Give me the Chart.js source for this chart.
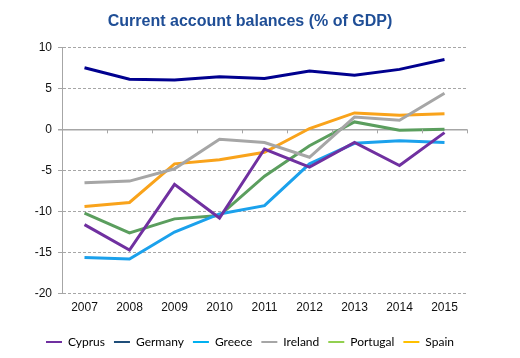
<!DOCTYPE html>
<html>
<head>
<meta charset="utf-8">
<script src="https://cdn.jsdelivr.net/npm/chart.js@4.4.1/dist/chart.umd.min.js"></script>
<style>
  html, body { margin: 0; padding: 0; background: #fff; }
  #wrap { width: 520px; height: 358px; }
</style>
</head>
<body>
<div id="wrap"><canvas id="chart" width="520" height="358"></canvas></div>
<script>
  // Current account balances, % of GDP
  const years    = ['2007', '2008', '2009', '2010', '2011', '2012', '2013', '2014', '2015'];
  const cyprus   = [-11.6, -14.7, -6.7, -10.8, -2.4, -4.6, -1.6, -4.4, -0.4];
  const germany  = [7.5, 6.1, 6.0, 6.4, 6.2, 7.1, 6.6, 7.3, 8.5];
  const greece   = [-15.6, -15.8, -12.5, -10.3, -9.3, -4.2, -1.7, -1.4, -1.6];
  const ireland  = [-6.5, -6.3, -4.8, -1.2, -1.6, -3.4, 1.5, 1.1, 4.4];
  const portugal = [-10.2, -12.6, -10.9, -10.5, -5.7, -2.0, 0.9, -0.1, 0.0];
  const spain    = [-9.4, -8.9, -4.2, -3.7, -2.8, 0.1, 2.0, 1.7, 1.9];
  const yTicks   = { min: -20, max: 10, step: 5 };

  const GRID = '#a6a6a6';

  // line colours vs. the (slightly different) legend swatch colours of the original
  const series = [
    { label: 'Cyprus',   data: cyprus,   color: '#7030a0', legend: '#7030a0' },
    { label: 'Germany',  data: germany,  color: '#00008f', legend: '#1f4e79' },
    { label: 'Greece',   data: greece,   color: '#1ba1ec', legend: '#00b0f0' },
    { label: 'Ireland',  data: ireland,  color: '#a6a6a6', legend: '#a6a6a6' },
    { label: 'Portugal', data: portugal, color: '#5b9e5e', legend: '#92d050' },
    { label: 'Spain',    data: spain,    color: '#f9a31b', legend: '#ffc000' },
  ];

  // small tick marks hanging off the zero line at the category boundaries
  const zeroTicks = {
    id: 'zeroTicks',
    afterDatasetsDraw(chart) {
      const x = chart.scales.x, y = chart.scales.y;
      const y0 = y.getPixelForValue(0);
      const half = (x.getPixelForTick(1) - x.getPixelForTick(0)) / 2;
      const ctx = chart.ctx;
      ctx.save();
      ctx.strokeStyle = GRID;
      ctx.lineWidth = 1;
      ctx.beginPath();
      for (let i = 0; i < years.length; i++) {
        const px = Math.round(x.getPixelForTick(i) + half) + 0.5;
        ctx.moveTo(px, y0);
        ctx.lineTo(px, y0 + 4);
      }
      ctx.stroke();
      ctx.restore();
    },
  };

  new Chart(document.getElementById('chart'), {
    type: 'line',
    data: {
      labels: years,
      datasets: series.map(s => ({
        label: s.label,
        data: s.data,
        borderColor: s.color,
        backgroundColor: s.legend,
        borderWidth: 3,
        pointRadius: 0,
        tension: 0,
        fill: false,
      })),
    },
    plugins: [zeroTicks],
    options: {
      responsive: false,
      animation: false,
      layout: { padding: { left: 33, right: 53, top: 12, bottom: 0 } },
      plugins: {
        title: {
          display: true,
          text: 'Current account balances (% of GDP)',
          color: '#1f4e96',
          font: { family: 'Liberation Sans', size: 16, weight: 'bold' },
          padding: { top: 0, bottom: 16 },
        },
        legend: {
          position: 'bottom',
          labels: {
            usePointStyle: true,
            pointStyle: 'line',
            pointStyleWidth: 16,
            boxHeight: 2,
            padding: 9,
            color: '#404040',
            font: { family: 'Lato', size: 12 },
            generateLabels(chart) {
              return chart.data.datasets.map((d, i) => ({
                text: d.label,
                strokeStyle: series[i].legend,
                fillStyle: series[i].legend,
                lineWidth: 2,
                pointStyle: 'line',
                hidden: false,
                datasetIndex: i,
              }));
            },
          },
        },
        tooltip: { enabled: false },
      },
      scales: {
        x: {
          offset: true,
          afterFit(scale) { scale.height += 5; },
          grid: { display: false, drawTicks: false },
          border: { display: false },
          ticks: {
            color: '#111',
            padding: 7,
            font: { family: 'Liberation Sans', size: 12 },
          },
        },
        y: {
          min: yTicks.min,
          max: yTicks.max,
          afterFit(scale) { scale.width = 29; },
          ticks: {
            stepSize: yTicks.step,
            color: '#111',
            padding: 6,
            font: { family: 'Liberation Sans', size: 12 },
          },
          grid: {
            color: GRID,
            lineWidth: ctx => (ctx.tick && ctx.tick.value === 0 ? 1.5 : 1),
            tickLength: 4,
          },
          border: {
            display: true,
            color: GRID,
            width: 1,
            dash: ctx => (ctx.tick && ctx.tick.value === 0 ? [] : [3, 2]),
          },
        },
      },
    },
  });
</script>
</body>
</html>
